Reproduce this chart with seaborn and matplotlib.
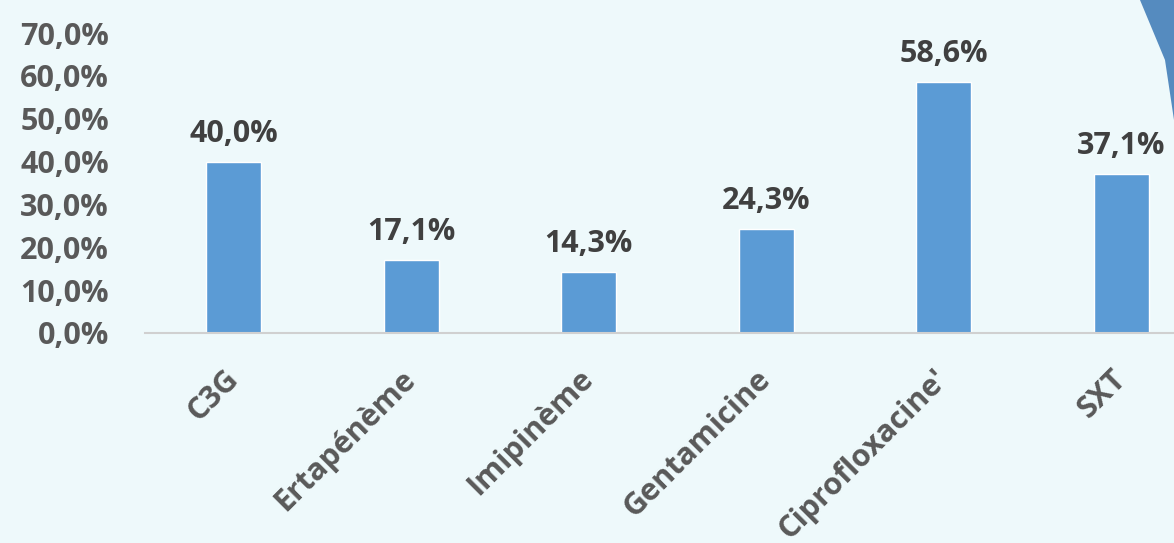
import matplotlib
matplotlib.use("Agg")
import matplotlib.pyplot as plt
import seaborn as sns
import pandas as pd
from matplotlib.patches import Polygon

categories = ["C3G", "Ertapénème", "Imipinème", "Gentamicine", "Ciprofloxacine'", "SXT"]
values = [0.400, 0.171, 0.143, 0.243, 0.586, 0.371]
value_labels = ["40,0%", "17,1%", "14,3%", "24,3%", "58,6%", "37,1%"]
yticks = [0.0, 0.1, 0.2, 0.3, 0.4, 0.5, 0.6, 0.7]
ytick_labels = ["0,0%", "10,0%", "20,0%", "30,0%", "40,0%", "50,0%", "60,0%", "70,0%"]

bg = "#eef9fb"
sns.set_theme(style="white")
plt.rcParams["font.family"] = ["Open Sans", "DejaVu Sans"]

fig = plt.figure(figsize=(11.74, 5.43), dpi=100, facecolor=bg)
ax = fig.add_axes([145 / 1174, 1 - 333 / 543, (1174 - 145) / 1174, 300 / 543])
ax.set_facecolor(bg)

df = pd.DataFrame({"cat": categories, "val": values})
sns.barplot(data=df, x="cat", y="val", color="#5b9bd5", width=0.31, saturation=1, ax=ax)

ax.set_xlim(-0.5, 5.297)
ax.set_ylim(0, 0.7)
ax.set_yticks(yticks)
ax.set_yticklabels(ytick_labels, fontsize=22, fontweight="bold", color="#595959")
ax.set_xticks(range(len(categories)))
ax.set_xticklabels(categories, fontsize=22, fontweight="bold", color="#595959",
                   rotation=45, ha="right", va="center", rotation_mode="anchor")
ax.tick_params(axis="y", length=0, pad=26)
ax.tick_params(axis="x", length=0, pad=30)
for lbl in ax.get_yticklabels():
    lbl.set_horizontalalignment("right")
ax.set_xlabel("")
ax.set_ylabel("")
for s in ["top", "right", "left"]:
    ax.spines[s].set_visible(False)
ax.spines["bottom"].set_color("#d0d0d0")
ax.spines["bottom"].set_linewidth(1.5)

ax.bar_label(ax.containers[0], labels=value_labels, padding=9, fontsize=22,
             fontweight="bold", color="#404040")

# decorative corner shape
fig.patches.append(Polygon([(1140 / 1174, 1.0), (1.0, 1.0), (1.0, 1 - 120 / 543), (1165 / 1174, 1 - 60 / 543)],
                           closed=True, transform=fig.transFigure, facecolor="#3a78b5",
                           edgecolor="none", alpha=0.85, zorder=0))

fig.savefig("out.png", dpi=100, facecolor=bg)
